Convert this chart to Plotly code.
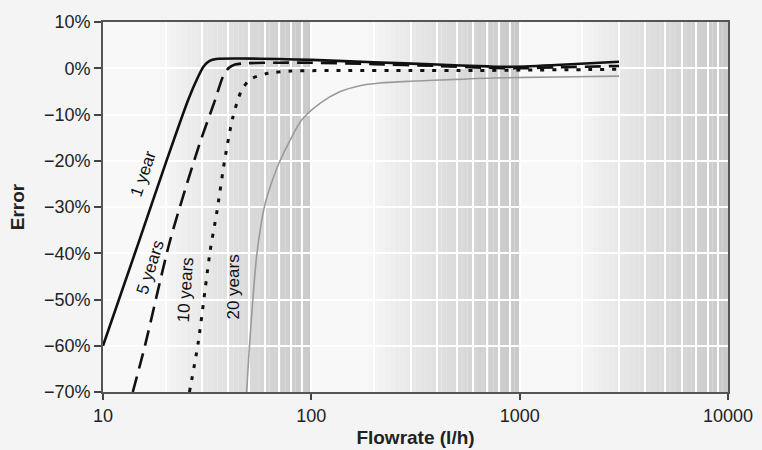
import plotly.graph_objects as go
import numpy as np

# ---- data ----
one_year_x = [10, 15, 20, 25.6, 28.5, 30.5, 32.5, 35, 45, 70, 100, 200, 400, 700, 900, 1500, 3000]
one_year_y = [-60, -37, -20.5, -6.9, -2.0, 0.5, 1.6, 2.0, 2.1, 2.0, 1.8, 1.3, 0.8, 0.4, 0.3, 0.7, 1.4]

five_x = [13.9, 15.9, 21, 29, 34.5, 37.5, 40, 43, 50, 70, 100, 200, 400, 700, 1000, 1500, 3000]
five_y = [-70, -60, -37.2, -16.5, -6.9, -2.0, 0.0, 0.8, 1.1, 1.2, 1.2, 0.9, 0.5, 0.1, 0.0, 0.2, 0.5]

ten_x = [26, 28.6, 32.7, 35.1, 38.5, 42, 46, 50.8, 62, 80, 150, 300, 600, 1000, 2000, 3000]
ten_y = [-70, -59.5, -39.4, -31.4, -19.5, -10.6, -5.0, -2.4, -1.1, -0.6, -0.5, -0.5, -0.5, -0.4, -0.3, -0.2]

twenty_x = [48.9, 50.2, 52.2, 54.5, 57.5, 60.2, 63.6, 70.0, 79.0, 89.9, 110, 137, 171, 213, 300, 500, 745, 1500, 3000]
twenty_y = [-70, -61.6, -51.0, -41.0, -33.5, -29.0, -25.5, -20.5, -15.6, -11.2, -7.6, -5.1, -3.8, -3.2, -2.8, -2.4, -2.1, -1.9, -1.7]

x_ticks = [10, 100, 1000, 10000]
x_tick_labels = ["10", "100", "1000", "10000"]
y_ticks = [10, 0, -10, -20, -30, -40, -50, -60, -70]
y_tick_labels = ["10%", "0%", "\u221210%", "\u221220%", "\u221230%", "\u221240%", "\u221250%", "\u221260%", "\u221270%"]

labels = ["1 year", "5 years", "10 years", "20 years"]
label_x = [15.6, 16.8, 24.8, 42.1]
label_y = [-22.7, -43.0, -48.0, -47.4]
label_angle = [-71, -72, -86, -90]

FONT = "Liberation Sans, Arial, sans-serif"

fig = go.Figure()

# background gradient shading per decade
shapes = []
decades = [10, 100, 1000]
nstep = 40
lo, hi = 248, 200
for d in decades:
    for i in range(nstep):
        t0 = i / nstep
        t1 = (i + 1) / nstep
        tm = (t0 + t1) / 2
        if tm < 0.26:
            continue
        f = ((tm - 0.26) / 0.74) ** 0.9
        c = int(round(lo + (hi - lo) * f))
        shapes.append(dict(type="rect", xref="x", yref="y",
                           x0=d * 10 ** t0, x1=d * 10 ** t1, y0=-70, y1=10,
                           fillcolor=f"rgb({c},{c},{c})", line=dict(width=0),
                           layer="below"))

fig.add_trace(go.Scatter(x=twenty_x, y=twenty_y, mode="lines",
                         line=dict(color="#9a9a9a", width=1.6, shape="spline", smoothing=0.8),
                         hoverinfo="skip", showlegend=False))
fig.add_trace(go.Scatter(x=ten_x, y=ten_y, mode="lines",
                         line=dict(color="#111", width=3, dash="4px,8px", shape="spline", smoothing=0.7),
                         hoverinfo="skip", showlegend=False))
fig.add_trace(go.Scatter(x=five_x, y=five_y, mode="lines",
                         line=dict(color="#111", width=2.6, dash="16px,8px", shape="spline", smoothing=0.7),
                         hoverinfo="skip", showlegend=False))
fig.add_trace(go.Scatter(x=one_year_x, y=one_year_y, mode="lines",
                         line=dict(color="#111", width=2.6, shape="spline", smoothing=0.7),
                         hoverinfo="skip", showlegend=False))

annotations = []
for lab, lx, ly, la in zip(labels, label_x, label_y, label_angle):
    annotations.append(dict(x=np.log10(lx), y=ly, xref="x", yref="y", text=lab,
                            showarrow=False, textangle=la,
                            font=dict(family=FONT, size=17, color="#111")))

fig.update_layout(
    width=762, height=450,
    margin=dict(l=103, r=34, t=22, b=58),
    paper_bgcolor="#f4f4f4",
    plot_bgcolor="#f8f8f8",
    shapes=shapes,
    annotations=annotations,
    font=dict(family=FONT, size=18, color="#222"),
    xaxis=dict(type="log", range=[1, 4], tickvals=x_ticks, ticktext=x_tick_labels,
               ticks="outside", ticklen=6, tickcolor="#444", tickwidth=1.5,
               tickfont=dict(size=18),
               showline=True, linecolor="#555", linewidth=1.8, mirror=True,
               showgrid=True, gridcolor="white", gridwidth=1.5,
               minor=dict(tickvals=[m * d for d in [10, 100, 1000] for m in range(2, 10)],
                          showgrid=True, gridcolor="white", gridwidth=1.5, ticklen=0),
               zeroline=False, automargin=False,
               title=dict(text="<b>Flowrate (l/h)</b>", font=dict(size=19), standoff=6)),
    yaxis=dict(range=[-70, 10], tickvals=y_ticks, ticktext=y_tick_labels,
               ticks="outside", ticklen=7, tickcolor="#444", tickwidth=1.5,
               tickfont=dict(size=18),
               showline=True, linecolor="#555", linewidth=1.8, mirror=True,
               showgrid=True, gridcolor="white", gridwidth=1.5, zeroline=False,
               automargin=False,
               title=dict(text="<b>Error</b>", font=dict(size=19), standoff=14)),
)

fig.write_html("out.html")
